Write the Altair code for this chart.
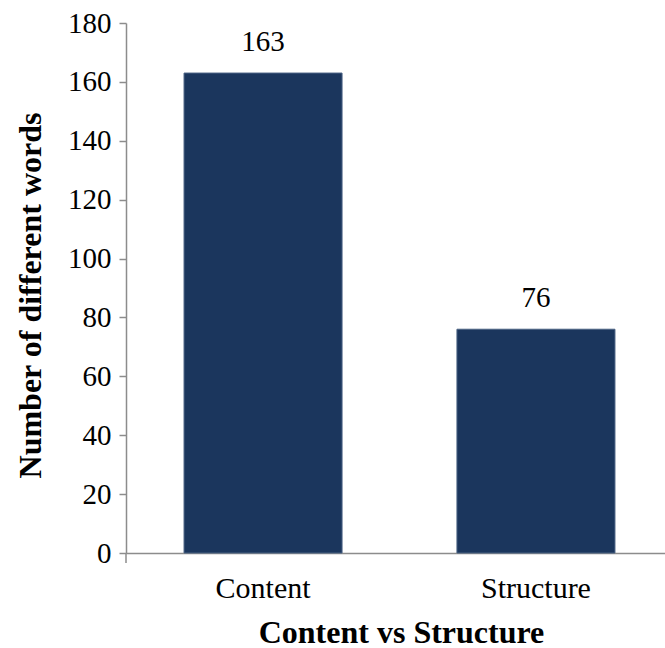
import altair as alt
import pandas as pd

categories = ["Content", "Structure"]
values = [163, 76]

df = pd.DataFrame({"cat": categories, "val": values})

FONT = "Liberation Serif"
BAR = "#1b365d"
AX = "#8c8c8c"

x_enc = alt.X("cat:N", sort=categories,
              scale=alt.Scale(paddingInner=0.421, paddingOuter=0.198, align=0.537),
              axis=alt.Axis(title="Content vs Structure", labelAngle=0, ticks=False,
                            labelPadding=20, titlePadding=14, labelFontSize=30,
                            titleFontSize=32, titleX=275, domainColor=AX, domainWidth=1.5))
y_enc = alt.Y("val:Q", scale=alt.Scale(domain=[0, 180]),
              axis=alt.Axis(title="Number of different words", values=list(range(0, 181, 20)),
                            grid=False, tickSize=7, tickColor=AX, domainColor=AX,
                            domainWidth=1.5, tickWidth=1.5, labelPadding=8, labelFontSize=29,
                            titleFontSize=32, titlePadding=20, titleY=272))

bars = alt.Chart(df).mark_bar(color=BAR, stroke="#4a6283", strokeWidth=1).encode(x=x_enc, y=y_enc)
text = alt.Chart(df).mark_text(font=FONT, fontSize=29, dy=-16, baseline="bottom", color="black").encode(
    x=alt.X("cat:N", sort=categories), y="val:Q", text="val:Q")
ext = alt.Chart(df.head(1)).mark_rule(color=AX, strokeWidth=1.5).encode(
    x=alt.value(0), y=alt.value(530), y2=alt.value(540))

chart = alt.layer(bars, text, ext).properties(
    width=539, height=530,
    autosize=alt.AutoSizeParams(type="none"),
    padding={"left": 126, "top": 23, "right": 0, "bottom": 95},
).configure_view(stroke=None).configure_axis(
    labelFont=FONT, titleFont=FONT, labelColor="black", titleColor="black",
    titleFontWeight="bold")

chart.save("out.html", embed_options={"renderer": "svg", "actions": False})
